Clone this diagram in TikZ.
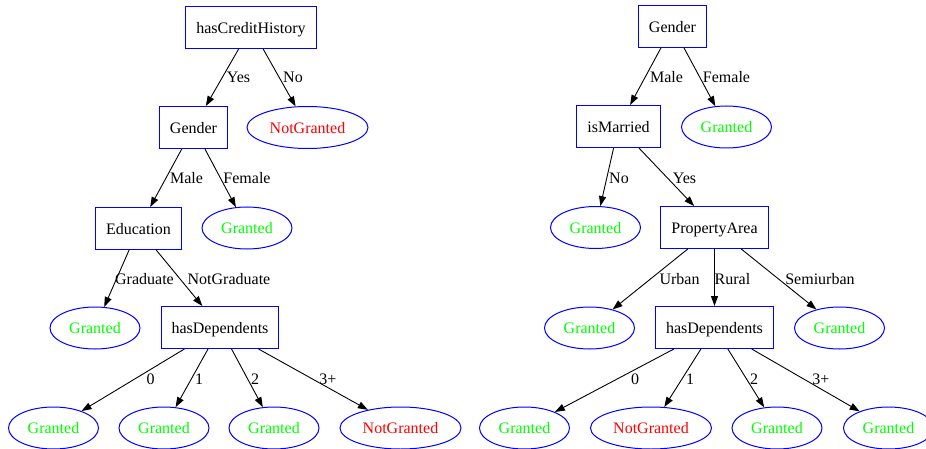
\documentclass[tikz,border=0pt]{standalone}
\usepackage{fontspec}
\setmainfont{Liberation Serif}
\usetikzlibrary{arrows.meta,shapes.geometric}
\definecolor{gvblue}{RGB}{0,0,255}
\definecolor{gvgreen}{RGB}{0,255,0}
\definecolor{gvred}{RGB}{255,0,0}
\begin{document}
\begin{tikzpicture}[x=1pt,y=-1pt,
  every node/.style={font=\fontsize{16}{19}\selectfont, text height=12pt, text depth=0.5pt},
  dec/.style={draw=gvblue, line width=1pt, rectangle, minimum height=42pt, inner xsep=4pt},
  leaf/.style={draw=gvblue, line width=1pt, ellipse, minimum height=42pt, inner sep=0pt},
  yesleaf/.style={leaf, text=gvgreen, minimum width=90pt},
  noleaf/.style={leaf, text=gvred, minimum width=121pt},
  arr/.style={-{Triangle[length=10pt,width=7pt]}, line width=0.9pt, black},
  lbl/.style={anchor=base, inner sep=0pt, text height=, text depth=}]
\useasboundingbox (0,0) rectangle (926,449);
% ---------- left tree ----------
\node[dec, minimum width=131pt] (hch) at (251,27.5) {hasCreditHistory};
\node[dec, minimum width=68pt] (g1) at (193.5,127.5) {Gender};
\node[noleaf] (ng1) at (307.5,127.5) {NotGranted};
\node[dec, minimum width=86pt] (ed) at (138.5,228.5) {Education};
\node[yesleaf] (gf1) at (247,228) {Granted};
\node[yesleaf] (gg1) at (95,328) {Granted};
\node[dec, minimum width=117pt] (hd1) at (220,327.5) {hasDependents};
\node[yesleaf] (a0) at (53.5,428) {Granted};
\node[yesleaf] (a1) at (164,428) {Granted};
\node[yesleaf] (a2) at (274,428) {Granted};
\node[noleaf] (a3) at (400.5,428) {NotGranted};
\draw[arr] (hch) -- (g1);
\draw[arr] (hch) -- (ng1);
\draw[arr] (g1) -- (ed);
\draw[arr] (g1) -- (gf1);
\draw[arr] (ed) -- (gg1);
\draw[arr] (ed) -- (hd1);
\draw[arr] (hd1) -- (a0);
\draw[arr] (hd1) -- (a1);
\draw[arr] (hd1) -- (a2);
\draw[arr] (hd1) -- (a3);
\node[lbl] (lyes1) at (238.5,83) {Yes};
\node[lbl] (lno1) at (293,83) {No};
\node[lbl] (lmale1) at (186.5,184) {Male};
\node[lbl] (lfem1) at (247,184) {Female};
\node[lbl] (lgrad) at (144.5,284) {Graduate};
\node[lbl] (lngrad) at (229,284) {NotGraduate};
\node[lbl] (ld10) at (150.5,384) {0};
\node[lbl] (ld11) at (199,384) {1};
\node[lbl] (ld12) at (255,384) {2};
\node[lbl] (ld13) at (328,384) {3+};
% ---------- right tree ----------
\node[dec, minimum width=68pt] (g2) at (672.5,26.5) {Gender};
\node[dec, minimum width=84pt] (im) at (618.5,126.5) {isMarried};
\node[yesleaf] (gf2) at (726.5,127) {Granted};
\node[yesleaf] (gn2) at (595.5,227.5) {Granted};
\node[dec, minimum width=108pt] (pa) at (714.5,227.5) {PropertyArea};
\node[yesleaf] (gu) at (589.5,328) {Granted};
\node[dec, minimum width=118pt] (hd2) at (714.5,327.5) {hasDependents};
\node[yesleaf] (gs) at (839.5,328) {Granted};
\node[yesleaf] (b0) at (524.5,428) {Granted};
\node[noleaf] (b1) at (651,428) {NotGranted};
\node[yesleaf] (b2) at (777,428) {Granted};
\node[yesleaf] (b3) at (888.5,428) {Granted};
\draw[arr] (g2) -- (im);
\draw[arr] (g2) -- (gf2);
\draw[arr] (im) -- (gn2);
\draw[arr] (im) -- (pa);
\draw[arr] (pa) -- (gu);
\draw[arr] (pa) -- (hd2);
\draw[arr] (pa) -- (gs);
\draw[arr] (hd2) -- (b0);
\draw[arr] (hd2) -- (b1);
\draw[arr] (hd2) -- (b2);
\draw[arr] (hd2) -- (b3);
\node[lbl] (lmale2) at (666.5,83) {Male};
\node[lbl] (lfem2) at (726.5,83) {Female};
\node[lbl] (lno2) at (619,184) {No};
\node[lbl] (lyes2) at (684.5,184) {Yes};
\node[lbl] (lurb) at (679.5,284) {Urban};
\node[lbl] (lrur) at (732.5,284) {Rural};
\node[lbl] (lsemi) at (820,284) {Semiurban};
\node[lbl] (ld20) at (635,384) {0};
\node[lbl] (ld21) at (690,384) {1};
\node[lbl] (ld22) at (754,384) {2};
\node[lbl] (ld23) at (821,384) {3+};
\end{tikzpicture}
\end{document}
